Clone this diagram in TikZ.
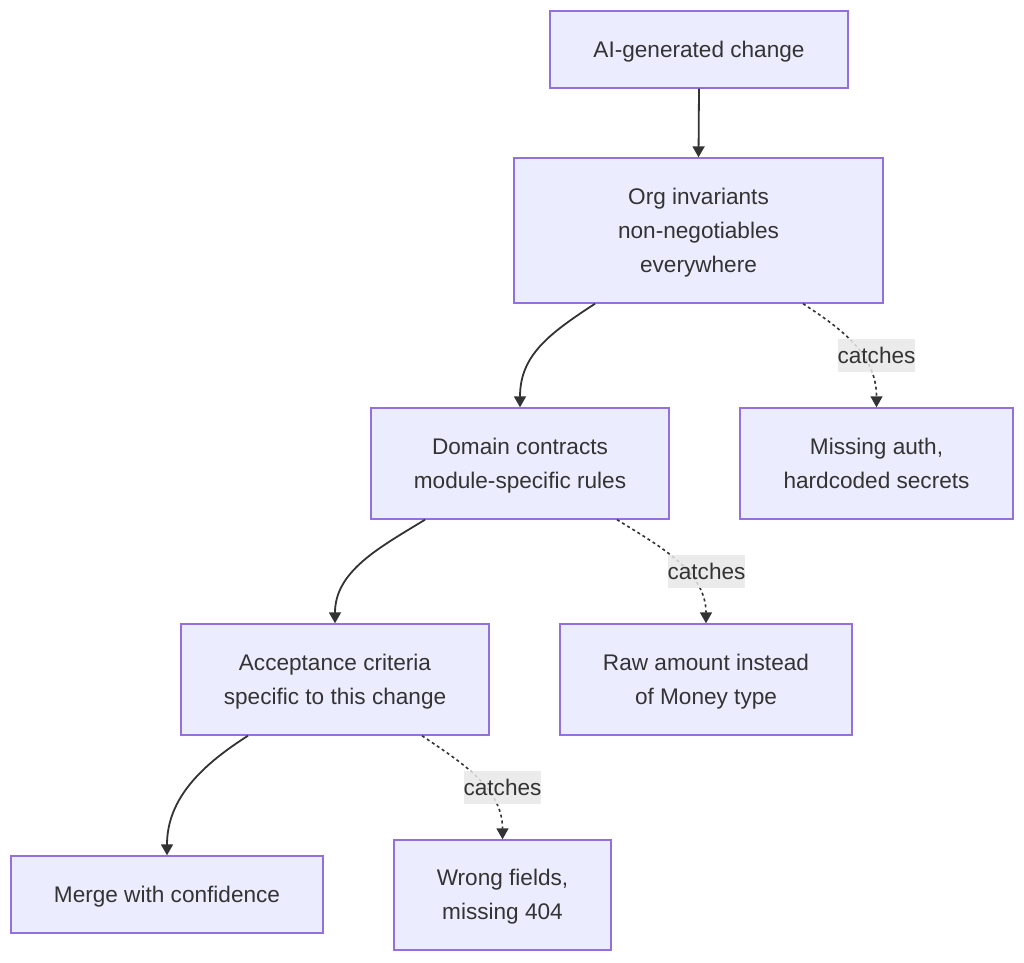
\documentclass[tikz,border=0pt]{standalone}
\usepackage{fontspec}
\setmainfont{Liberation Sans}
\usetikzlibrary{arrows.meta}
\definecolor{boxfill}{HTML}{ECECFF}
\definecolor{boxline}{HTML}{9370DB}
\definecolor{ink}{HTML}{333333}
\definecolor{lblfill}{HTML}{E8E8E8}
% centred lines of box text, each on a full 34pt line
\newcommand\boxlines[1]{\raisebox{-1pt}[\height][\depth]{\begin{tabular}{@{}c@{}}#1\end{tabular}}}
\begin{document}
\begin{tikzpicture}[x=1pt,y=-1pt,
  box/.style={draw=boxline, fill=boxfill, line width=1.4pt, inner sep=0pt,
    text=ink, font=\fontsize{22.6}{34}\selectfont},
  flow/.style={draw=ink, line width=1.8pt, -{Triangle[width=12pt,length=11pt]}},
  catch/.style={draw=ink, line width=1.6pt, dash pattern=on 3pt off 3pt,
    -{Triangle[width=12pt,length=11pt]}},
  lbl/.style={fill=lblfill, fill opacity=0.85, text opacity=1, text=ink,
    inner sep=0pt, minimum width=77pt, minimum height=33pt,
    font=\fontsize{22.6}{34}\selectfont}]
\useasboundingbox (0,0) rectangle (1024,962);

% process boxes
\node[box, minimum width=298pt, minimum height=77pt]  (A) at (699,49.5)   {\boxlines{AI-generated change}};
\node[box, minimum width=369pt, minimum height=145pt] (B) at (698.5,230.5) {\boxlines{Org invariants\\non-negotiables\\everywhere}};
\node[box, minimum width=298pt, minimum height=111pt] (C) at (520,463.5)  {\boxlines{Domain contracts\\module-specific rules}};
\node[box, minimum width=273pt, minimum height=111pt] (D) at (876.5,463.5) {\boxlines{Missing auth,\\hardcoded secrets}};
\node[box, minimum width=308pt, minimum height=111pt] (E) at (335,679.5)  {\boxlines{Acceptance criteria\\specific to this change}};
\node[box, minimum width=292pt, minimum height=111pt] (F) at (706,679.5)  {\boxlines{Raw amount instead\\of Money type}};
\node[box, minimum width=312pt, minimum height=77pt]  (G) at (167,894.5)  {\boxlines{Merge with confidence}};
\node[box, minimum width=217pt, minimum height=110pt] (H) at (502.5,895)  {\boxlines{Wrong fields,\\missing 404}};

% main path
\draw[flow] (A.south) -- (B.north);
\draw[flow] ([xshift=-103.5pt]B.south) .. controls +(-46,30) and +(0,-52) .. (C.north);
\draw[flow] ([xshift=-95pt]C.south) .. controls +(-46,28) and +(0,-52) .. (E.north);
\draw[flow] ([xshift=-87pt]E.south) .. controls +(-44,28) and +(0,-58) .. (G.north);

% what each layer catches
\draw[catch] ([xshift=104.5pt]B.south) .. controls +(40,26) and +(0,-52) .. (D.north);
\draw[catch] ([xshift=97pt]C.south) .. controls +(42,26) and +(0,-52) .. (F.north);
\draw[catch] ([xshift=87pt]E.south) .. controls +(38,26) and +(0,-52) .. (H.north);

\node[lbl] (l1) at (876.5,355.5) {catches};
\node[lbl] (l2) at (706.5,571.5) {catches};
\node[lbl] (l3) at (502.5,787.5) {catches};
\end{tikzpicture}
\end{document}
